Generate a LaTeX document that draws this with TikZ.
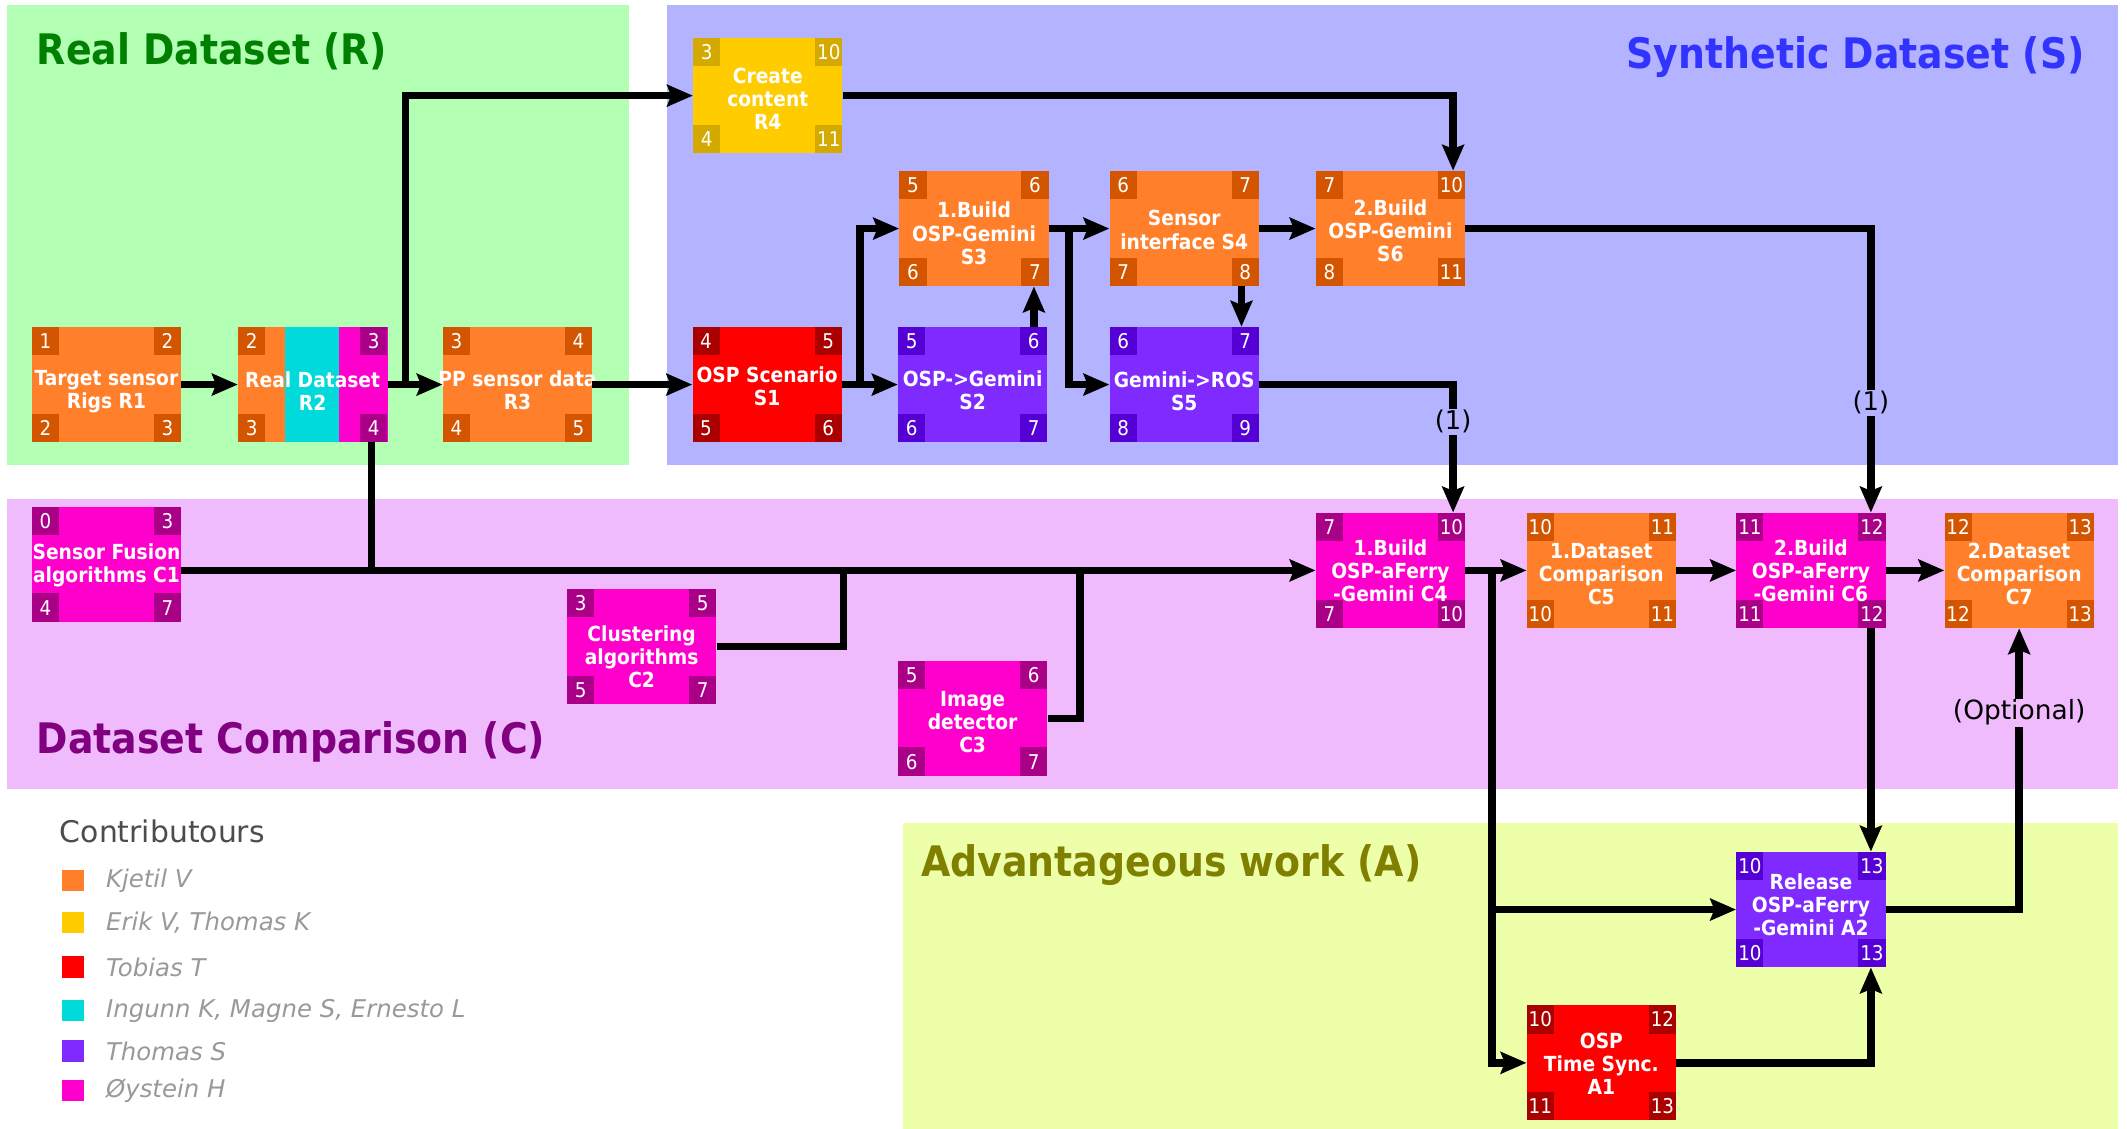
\documentclass[tikz,border=0pt]{standalone}
\usepackage{fontspec}
\setmainfont{DejaVu Sans}
\newfontfamily\condfont{DejaVu Sans Condensed}
\usetikzlibrary{arrows.meta,calc}

% box fills (F) and their darker corner tags (D)
\definecolor{orgF}{HTML}{FF7F2A}\definecolor{orgD}{HTML}{D45500}
\definecolor{yelF}{HTML}{FFCC00}\definecolor{yelD}{HTML}{D4AA00}
\definecolor{redF}{HTML}{FF0000}\definecolor{redD}{HTML}{AA0000}
\definecolor{purF}{HTML}{7F2AFF}\definecolor{purD}{HTML}{5500D4}
\definecolor{magF}{HTML}{FF00CC}\definecolor{magD}{HTML}{AA0088}
\definecolor{cyaF}{HTML}{00DADA}
% area backgrounds and titles
\definecolor{bgR}{HTML}{B3FFB3}\definecolor{bgS}{HTML}{B3B3FF}
\definecolor{bgC}{HTML}{EFBBFD}\definecolor{bgA}{HTML}{EEFFAA}
\definecolor{ttR}{HTML}{008000}\definecolor{ttS}{HTML}{3333FF}
\definecolor{ttC}{HTML}{800080}\definecolor{ttA}{HTML}{808000}

\tikzset{
  taskbox/.style={minimum width=110pt, minimum height=85pt, inner sep=0pt},
  cornerlab/.style={minimum width=20pt, minimum height=21pt, inner sep=0pt,
    text=white, font=\condfont\fontsize{15}{15}\selectfont},
  tasktext/.style={text=white, align=center, inner sep=0pt,
    font=\condfont\bfseries\fontsize{15.3}{17}\selectfont},
  areatitle/.style={inner sep=0pt, font=\condfont\bfseries\fontsize{31}{36}\selectfont},
  flow/.style={line width=5.5pt, -{Stealth[length=19pt,width=16pt,inset=3pt]}},
  bus/.style={line width=5.5pt},
  onelab/.style={fill=bgS, inner sep=1pt, font=\fontsize{19}{19}\selectfont},
  optlab/.style={fill=bgC, inner sep=1pt, font=\fontsize{19.5}{19}\selectfont},
  legsq/.style={minimum size=16pt, inner sep=0pt},
  legtext/.style={anchor=west, inner sep=0pt, text=black!40,
    font=\itshape\fontsize{18}{18}\selectfont},
}

% task box: name, centre, caption drop, colour family, four corner numbers, caption
\newcommand{\taskbox}[9]{%
  \node[taskbox, fill=#4F] (#1) at (#2) {};
  \node[cornerlab, fill=#4D, anchor=north west] at (#1.north west) {#5};
  \node[cornerlab, fill=#4D, anchor=north east] at (#1.north east) {#6};
  \node[cornerlab, fill=#4D, anchor=south west] at (#1.south west) {#7};
  \node[cornerlab, fill=#4D, anchor=south east] at (#1.south east) {#8};
  \node[tasktext] at ([shift={(0,#3)}]#1.center) {#9};
}

\begin{document}
\begin{tikzpicture}[x=1pt, y=-1pt]
\useasboundingbox (0,0) rectangle (1568,832);
\fill[white] (0,0) rectangle (1568,832);

% areas
\fill[bgR] (5,4) rectangle (464,343);
\fill[bgS] (492,4) rectangle (1561,343);
\fill[bgC] (5,368) rectangle (1561,582);
\fill[bgA] (666,607) rectangle (1561,832);

\node[areatitle, text=ttR, anchor=west] (tR) at (27,38) {Real Dataset (R)};
\node[areatitle, text=ttS, anchor=east] (tS) at (1537,42) {Synthetic Dataset (S)};
\node[areatitle, text=ttC, anchor=west] (tC) at (27,547) {Dataset Comparison (C)};
\node[areatitle, text=ttA, anchor=west] (tA) at (679,638) {Advantageous work (A)};

% real dataset
\taskbox{R1}{78.5,283.5}{5}{org}{1}{2}{2}{3}{Target sensor\\Rigs R1}
\node[taskbox, fill=orgF] (R2) at (230.5,283.5) {};
\fill[cyaF] (210,241) rectangle (250,326);
\fill[magF] (250,241) rectangle (R2.south east);
\node[cornerlab, fill=orgD, anchor=north west] at (R2.north west) {2};
\node[cornerlab, fill=magD, anchor=north east] at (R2.north east) {3};
\node[cornerlab, fill=orgD, anchor=south west] at (R2.south west) {3};
\node[cornerlab, fill=magD, anchor=south east] at (R2.south east) {4};
\node[tasktext] at ([shift={(0,5)}]R2.center) {Real Dataset\\R2};
\taskbox{R3}{381.5,283.5}{4}{org}{3}{4}{4}{5}{PP sensor data\\R3}
\taskbox{R4}{566,70.5}{2.5}{yel}{3}{10}{4}{11}{Create\\content\\R4}

% synthetic dataset
\taskbox{S1}{565.5,283.5}{1}{red}{4}{5}{5}{6}{OSP Scenario\\S1}
\taskbox{S2}{717,283.5}{4}{pur}{5}{6}{6}{7}{OSP->Gemini\\S2}
\taskbox{S3}{718,168.5}{3.5}{org}{5}{6}{6}{7}{1.Build\\OSP-Gemini\\S3}
\taskbox{S4}{873,168.5}{1}{org}{6}{7}{7}{8}{Sensor\\interface S4}
\taskbox{S5}{873,283.5}{5}{pur}{6}{7}{8}{9}{Gemini->ROS\\S5}
\taskbox{S6}{1025,168.5}{1.5}{org}{7}{10}{8}{11}{2.Build\\OSP-Gemini\\S6}

% dataset comparison
\taskbox{C1}{78.5,416}{0.5}{mag}{0}{3}{4}{7}{Sensor Fusion\\algorithms C1}
\taskbox{C2}{473,476.5}{7.5}{mag}{3}{5}{5}{7}{Clustering\\algorithms\\C2}
\taskbox{C3}{717,529.5}{2.5}{mag}{5}{6}{6}{7}{Image\\detector\\C3}
\taskbox{C4}{1025,420.5}{0}{mag}{7}{10}{7}{10}{1.Build\\OSP-aFerry\\-Gemini C4}
\taskbox{C5}{1180.5,420.5}{2.5}{org}{10}{11}{10}{11}{1.Dataset\\Comparison\\C5}
\taskbox{C6}{1335,420.5}{0}{mag}{11}{12}{11}{12}{2.Build\\OSP-aFerry\\-Gemini C6}
\taskbox{C7}{1488.5,420.5}{2.5}{org}{12}{13}{12}{13}{2.Dataset\\Comparison\\C7}

% advantageous work
\taskbox{A2}{1335,670.5}{-3.5}{pur}{10}{13}{10}{13}{Release\\OSP-aFerry\\-Gemini A2}
\taskbox{A1}{1180.5,783.5}{0.5}{red}{10}{12}{11}{13}{OSP\\Time Sync.\\A1}

% connectors: real and synthetic chains
\draw[flow] (R1.east) -- (R2.west);
\draw[flow] (R2.east) -- (R3.west);
\coordinate (jR4) at (299,283.5);
\draw[flow] (jR4) |- (R4.west);
\draw[flow] (R3.east) -- (S1.west);
\draw[flow] (S1.east) -- (S2.west);
\coordinate (jS3) at (634,283.5);
\draw[flow] (jS3) |- (S3.west);
\draw[flow] ([xshift=-10pt]S2.north east) -- ([xshift=-10pt]S2.north east |- S3.south);
\draw[flow] (S3.east) -- (S4.west);
\coordinate (jS5) at (788,168.5);
\draw[flow] (jS5) |- (S5.west);
\draw[flow] ([xshift=-13pt]S4.south east) -- ([xshift=-13pt]S4.south east |- S5.north);
\draw[flow] (S4.east) -- (S6.west);
\draw[flow] (R4.east) -| ([xshift=-9pt]S6.north east);
\draw[flow] (S5.east) -| node[pos=0.645, onelab] {(1)} ([xshift=-9pt]C4.north east);
\draw[flow] (S6.east) -| node[pos=0.807, onelab] {(1)} ([xshift=-11pt]C6.north east);

% comparison bus
\draw[flow] (C1.east |- C4.west) -- (C4.west);
\draw[bus] ([xshift=-12pt]R2.south east) -- ([xshift=-12pt]R2.south east |- C4.west);
\coordinate (jC2) at (622,420.5);
\draw[bus] (C2.east) -| (jC2);
\coordinate (jC3) at (796,420.5);
\draw[bus] (C3.east) -| (jC3);
\draw[flow] (C4.east) -- (C5.west);
\draw[flow] (C5.east) -- (C6.west);
\draw[flow] (C6.east) -- (C7.west);

% advantageous work links
\coordinate (jA) at (1100,420.5);
\draw[flow] (jA) |- (A1.west);
\draw[flow] (jA |- A2.west) -- (A2.west);
\draw[flow] ([xshift=-11pt]C6.south east) -- ([xshift=-11pt]A2.north east);
\draw[flow] (A1.east) -| ([xshift=-11pt]A2.south east);
\draw[flow] (A2.east) -| node[pos=0.85, optlab] {(Optional)} (C7.south);

% legend
\node[anchor=west, inner sep=0pt, text=black!70, font=\fontsize{22}{22}\selectfont] (lgT) at (44,613) {Contributours};
\node[legsq, fill=orgF] (lg1) at (54,649) {};
\node[legtext] at (78,649) {Kjetil V};
\node[legsq, fill=yelF] (lg2) at (54,680) {};
\node[legtext] at (78,680) {Erik V, Thomas K};
\node[legsq, fill=redF] (lg3) at (54,713) {};
\node[legtext] at (78,713) {Tobias T};
\node[legsq, fill=cyaF] (lg4) at (54,745) {};
\node[legtext] at (78,745) {Ingunn K, Magne S, Ernesto L};
\node[legsq, fill=purF] (lg5) at (54,775) {};
\node[legtext] at (78,775) {Thomas S};
\node[legsq, fill=magF] (lg6) at (54,804) {};
\node[legtext] at (78,804) {Øystein H};
\end{tikzpicture}
\end{document}
